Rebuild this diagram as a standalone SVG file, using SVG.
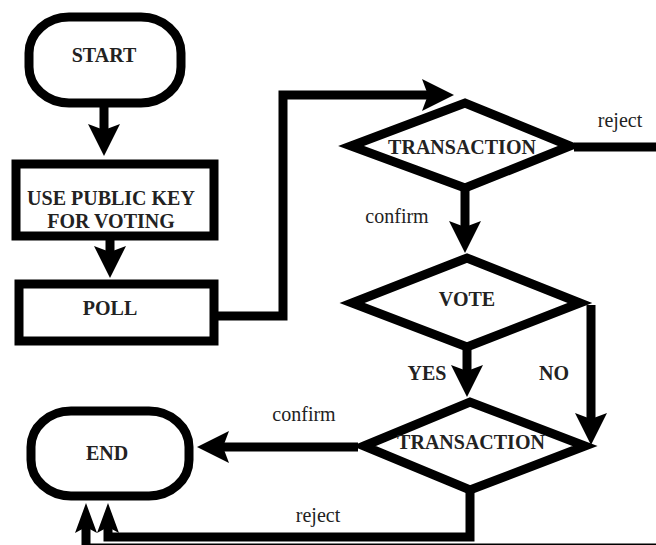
<svg xmlns="http://www.w3.org/2000/svg" width="656" height="545" viewBox="0 0 656 545">
<style>
.shape{fill:#fff;stroke:#000;stroke-width:9;stroke-linejoin:miter}
.conn{fill:none;stroke:#000;stroke-width:9;stroke-linejoin:miter}
text{font-family:'Liberation Serif','DejaVu Serif',serif;font-size:20px;fill:#222;text-anchor:middle}
.lbl{font-weight:bold}
</style>
<defs>
<marker id="ah" markerUnits="userSpaceOnUse" viewBox="-14 -18 40 36" refX="0" refY="0" markerWidth="40" markerHeight="36" orient="auto"><path d="M22,0 L-10,-16 L-4,0 L-10,16 Z" fill="#000"/></marker>
<marker id="ahs" markerUnits="userSpaceOnUse" viewBox="-14 -13 34 26" refX="0" refY="0" markerWidth="34" markerHeight="26" orient="auto"><path d="M18,0 L-12,-11 L-6,0 L-12,11 Z" fill="#000"/></marker>
</defs>
<g id="connectors">
<path class="conn" d="M104,107 V134" marker-end="url(#ah)"/>
<path class="conn" d="M110,240 V256" marker-end="url(#ah)"/>
<path class="conn" d="M218,316 H283 V95 H432" marker-end="url(#ah)"/>
<path class="conn" d="M465,190 V231" marker-end="url(#ah)"/>
<path class="conn" d="M574,147 H662 V548 H86 V521" marker-end="url(#ahs)"/>
<path class="conn" d="M467,350 V375" marker-end="url(#ah)"/>
<path class="conn" d="M591,305 V423" marker-end="url(#ah)"/>
<path class="conn" d="M358,447 H219" marker-end="url(#ah)"/>
<path class="conn" d="M470,492 V537 H108 V521" marker-end="url(#ahs)"/>
</g>
<g id="start">
<rect class="shape" x="29" y="17" width="152" height="86" rx="40" ry="36"/>
<text class="lbl" x="104" y="62">START</text>
</g>
<g id="publickey">
<rect class="shape" x="16" y="164" width="198" height="72"/>
<text class="lbl" x="111" y="205">USE PUBLIC KEY</text>
<text class="lbl" x="111" y="228">FOR VOTING</text>
</g>
<g id="poll">
<rect class="shape" x="19" y="284" width="195" height="57"/>
<text class="lbl" x="110" y="315">POLL</text>
</g>
<g id="transaction1">
<polygon class="shape" points="351,146 465,103 570,146 465,188"/>
<text class="lbl" x="462" y="154">TRANSACTION</text>
</g>
<g id="vote">
<polygon class="shape" points="352,303 467,258 580,303 467,347"/>
<text class="lbl" x="467" y="306">VOTE</text>
</g>
<g id="transaction2">
<polygon class="shape" points="364,446 470,402 585,446 470,490"/>
<text class="lbl" x="471" y="449">TRANSACTION</text>
</g>
<g id="end">
<rect class="shape" x="31" y="411" width="158" height="85" rx="40" ry="36"/>
<text class="lbl" x="107" y="460">END</text>
</g>
<g id="labels">
<text x="620" y="127">reject</text>
<text x="397" y="223">confirm</text>
<text class="lbl" x="427" y="380">YES</text>
<text class="lbl" x="554" y="380">NO</text>
<text x="304" y="421">confirm</text>
<text x="318" y="522">reject</text>
</g>
</svg>
